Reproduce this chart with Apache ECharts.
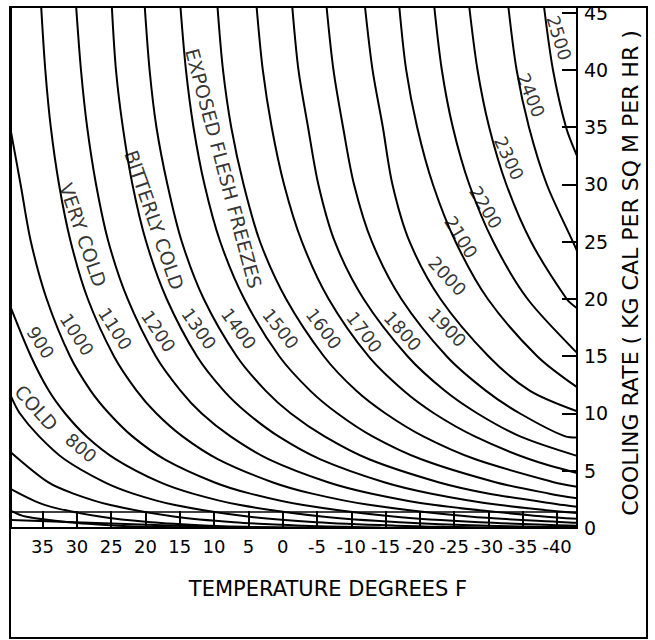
<!DOCTYPE html>
<html>
<head>
<meta charset="utf-8">
<script src="https://cdn.jsdelivr.net/npm/echarts@6/dist/echarts.min.js"></script>
<style>
html,body{margin:0;padding:0;background:#fff;}
#chart{width:655px;height:640px;}
</style>
</head>
<body>
<div id="chart"></div>
<script>
// ---- tick values ----
const xTicks = [35, 30, 25, 20, 15, 10, 5, 0, -5, -10, -15, -20, -25, -30, -35, -40];
const yTicks = [0, 5, 10, 15, 20, 25, 30, 35, 40, 45];

// ---- curves: [temperature F, axis value] ----
const c400  = [[39.6,0.7],[25,0.4],[10,0.1],[0,0]];
const c500  = [[39.6,1.5],[37.5,1],[31.2,0.5],[24.0,0.2],[19.5,0.1],[5.3,0]];
const c600  = [[39.6,3.4],[34.6,2],[26.7,1],[19.2,0.5],[10.5,0.2],[5.1,0.1],[-11.9,0]];
const c700  = [[39.6,6.6],[34.2,4],[30.5,3],[25.1,2],[15.9,1],[7.1,0.5],[-3.0,0.2],[-9.2,0.1],[-14.3,0.05],[-29.2,0]];
const c800  = [[39.6,11.5],[38.3,10],[35.5,8],[31.8,6],[26.0,4],[21.8,3],[15.7,2],[5.1,1],[-4.9,0.5],[-16.5,0.2],[-23.6,0.1],[-35.0,0.02],[-42.9,0]];
const c900  = [[39.6,19.2],[36.7,15],[34.1,12],[31.7,10],[28.6,8],[24.3,6],[17.9,4],[13.1,3],[6.2,2],[-5.7,1],[-17.0,0.5],[-29.9,0.2],[-42.9,0.08]];
const c1000 = [[39.6,34.6],[38.2,30],[36.7,25],[34.4,20],[31.0,15],[28.0,12],[25.3,10],[21.9,8],[17.2,6],[10.0,4],[4.7,3],[-3.0,2],[-16.1,1],[-28.7,0.5],[-42.9,0.2]];
const c1100 = [[35.2,45.5],[34.6,40],[33.8,35],[32.6,30],[30.9,25],[28.4,20],[24.6,15],[21.3,12],[18.4,10],[14.6,8],[9.4,6],[1.5,4],[-4.3,3],[-12.8,2],[-27.2,1],[-41.0,0.5],[-42.9,0.45]];
const c1200 = [[30.1,45.5],[29.4,40],[28.5,35],[27.2,30],[25.4,25],[22.6,20],[18.5,15],[14.9,12],[11.8,10],[7.6,8],[2.0,6],[-6.6,4],[-13.0,3],[-22.2,2],[-38.0,1],[-42.9,0.8]];
const c1300 = [[24.9,45.5],[24.3,40],[23.3,35],[21.9,30],[19.9,25],[16.9,20],[12.5,15],[8.6,12],[5.1,10],[0.6,8],[-5.5,6],[-14.8,4],[-21.7,3],[-31.7,2],[-42.9,1.3]];
const c1400 = [[20.1,45.5],[19.4,40],[18.4,35],[16.8,30],[14.7,25],[11.5,20],[6.7,15],[2.5,12],[-1.2,10],[-6.1,8],[-12.6,6],[-22.7,4],[-30.1,3],[-40.9,2],[-42.9,1.85]];
const c1500 = [[14.9,45.5],[14.1,40],[13.0,35],[11.4,30],[9.1,25],[5.6,20],[0.5,15],[-4.0,12],[-8.0,10],[-13.1,8],[-20.2,6],[-31.0,4],[-38.9,3],[-42.9,2.6]];
const c1600 = [[9.5,45.5],[8.7,40],[7.5,35],[5.7,30],[3.3,25],[-0.5,20],[-6.0,15],[-10.7,12],[-15.0,10],[-20.5,8],[-28.1,6],[-39.5,4],[-42.9,3.6]];
const c1700 = [[3.8,45.5],[2.9,40],[1.6,35],[-0.2,30],[-2.8,25],[-6.7,20],[-12.5,15],[-17.6,12],[-22.1,10],[-28.0,8],[-36.0,6],[-42.9,4.8]];
const c1800 = [[-1.4,45.5],[-2.3,40],[-3.7,35],[-5.2,30],[-7.6,25],[-11.8,20],[-18.2,15],[-23.6,12],[-28.4,10],[-34.6,8],[-42.9,6.3]];
const c1900 = [[-6.4,45.5],[-7.4,40],[-8.8,35],[-10.4,30],[-13.0,25],[-17.3,20],[-23.9,15],[-29.6,12],[-34.6,10],[-41.2,8],[-42.9,7.9]];
const c2000 = [[-12.0,45.5],[-13.1,40],[-14.6,35],[-16.0,30],[-18.5,25],[-23.0,20],[-30.0,15],[-36.0,12],[-42.9,10.2]];
const c2100 = [[-17.0,45.5],[-18.0,40],[-19.6,35],[-21.9,30],[-25.2,25],[-29.9,20],[-37.1,15],[-42.9,12.3]];
const c2200 = [[-22.1,45.5],[-23.2,40],[-24.8,35],[-27.2,30],[-30.7,25],[-35.7,20],[-42.9,15.3]];
const c2300 = [[-27.2,45.5],[-28.4,40],[-30.1,35],[-32.6,30],[-36.2,25],[-41.4,20],[-42.9,19.2]];
const c2400 = [[-32.9,45.5],[-34.1,40],[-35.9,35],[-38.5,30],[-42.3,25],[-42.9,24.2]];
const c2500 = [[-38.1,45.5],[-39.4,40],[-41.3,35],[-42.9,32.5]];

const curves = [c400, c500, c600, c700, c800, c900, c1000, c1100, c1200, c1300, c1400,
                c1500, c1600, c1700, c1800, c1900, c2000, c2100, c2200, c2300, c2400, c2500];

// flat reference line near the bottom (axis value)
const baseRule = 1.4;

// ---- curve labels ----
const labelTexts = ['2500','2400','2300','2200','2100','2000','1900','1800','1700','1600',
                    '1500','1400','1300','1200','1100','1000','900','800',
                    'VERY COLD','BITTERLY COLD','EXPOSED FLESH FREEZES','COLD'];
// label anchor [temperature, axis value, angle]
const labelPlace = [
  [-40.3,42.8,-73],[-36.2,37.8,-68],[-33.0,32.3,-65],[-29.6,28.0,-59],[-26.0,25.4,-58],
  [-24.0,22.0,-47],[-24.0,17.5,-46],[-17.5,17.2,-48],[-11.9,17.1,-53],[-6.0,17.4,-53],
  [0.3,17.4,-51],[6.4,17.4,-54],[12.2,17.4,-55],[18.1,17.2,-56],[24.4,17.4,-57],
  [30.0,16.9,-57],[35.3,16.2,-57],[29.4,7.0,-40],
  [29.1,25.6,-71],[18.7,26.9,-71],[8.6,31.4,-75],[35.9,10.5,-48]
];
const wordLabels = {'VERY COLD': 1, 'BITTERLY COLD': 1, 'EXPOSED FLESH FREEZES': 1, 'COLD': 1};

const FONT = '"DejaVu Sans", sans-serif';

const chart = echarts.init(document.getElementById('chart'), null, {renderer: 'svg'});

const lineSeries = curves.map(function (d, i) {
  const s = {
    type: 'line',
    data: d,
    smooth: 0.3,
    symbol: 'none',
    clip: true,
    silent: true,
    lineStyle: {color: '#000', width: 2}
  };
  if (i === 0) {
    s.markLine = {
      symbol: 'none', silent: true, animation: false,
      label: {show: false},
      lineStyle: {color: '#000', width: 1.5, type: 'solid'},
      data: [{yAxis: baseRule}]
    };
  }
  return s;
});

const labelSeries = {
  type: 'scatter',
  symbolSize: 0,
  silent: true,
  data: labelTexts.map(function (t, i) {
    const p = labelPlace[i];
    return {
      value: [p[0], p[1]],
      name: t,
      label: {rotate: p[2], fontSize: wordLabels[t] ? 19 : 18}
    };
  }),
  label: {
    show: true,
    position: 'inside',
    align: 'center',
    verticalAlign: 'middle',
    formatter: '{b}',
    color: '#000',
    fontSize: 18,
    fontFamily: FONT
  }
};

chart.setOption({
  animation: false,
  backgroundColor: '#fff',
  grid: {left: 11, right: 78, top: 7, bottom: 112, show: true, borderColor: '#000', borderWidth: 2},
  xAxis: {
    type: 'value', min: -42.9, max: 39.6, inverse: true,
    axisLine: {show: true, onZero: false, lineStyle: {color: '#000', width: 2}},
    axisTick: {show: true, inside: true, length: 17, customValues: xTicks, lineStyle: {color: '#000', width: 2}},
    axisLabel: {customValues: xTicks, color: '#000', fontSize: 18, margin: 9, fontFamily: FONT},
    splitLine: {show: false}
  },
  yAxis: {
    type: 'value', position: 'right', min: 0, max: 45.5,
    axisLine: {show: true, onZero: false, lineStyle: {color: '#000', width: 2}},
    axisTick: {show: true, inside: true, length: 15, customValues: yTicks, lineStyle: {color: '#000', width: 2}},
    axisLabel: {customValues: yTicks, color: '#000', fontSize: 19, margin: 7, fontFamily: FONT},
    splitLine: {show: false}
  },
  graphic: [
    {type: 'rect', shape: {x: 10, y: 7, width: 637, height: 631}, style: {fill: 'none', stroke: '#000', lineWidth: 2}, silent: true},
    {type: 'text', x: 328, y: 589, style: {text: 'TEMPERATURE DEGREES F', align: 'center', verticalAlign: 'middle', font: '21px ' + FONT, fill: '#000'}},
    {type: 'text', x: 630, y: 273, rotation: Math.PI / 2, style: {text: 'COOLING RATE ( KG CAL PER SQ M PER HR )', align: 'center', verticalAlign: 'middle', font: '22px ' + FONT, fill: '#000'}}
  ],
  series: lineSeries.concat([labelSeries])
});
</script>
</body>
</html>
